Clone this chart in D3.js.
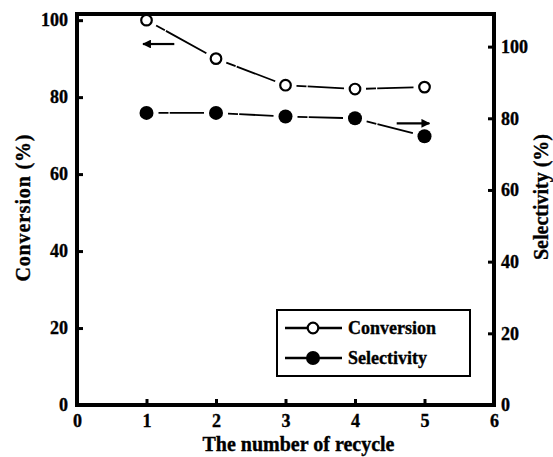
<!DOCTYPE html>
<html>
<head>
<meta charset="utf-8">
<script src="https://cdn.jsdelivr.net/npm/d3@7"></script>
<style>
  body { margin: 0; background: #fff; }
  svg { display: block; font-family: "Liberation Serif", "Times New Roman", serif; font-weight: bold; }
  svg text { stroke: #000; stroke-width: 0.35px; }
</style>
</head>
<body>
<div class="chart"></div>
<script>
// Data
var recycles = [1, 2, 3, 4, 5];
var conversion = [100, 90, 83.1, 82.1, 82.6];
var selectivity = [81.5, 81.5, 80.5, 80.0, 75.0];
var xTicks = [0, 1, 2, 3, 4, 5, 6];
var leftTicks = [0, 20, 40, 60, 80, 100];
var rightTicks = [0, 20, 40, 60, 80, 100];

// Set up chart
var svgWidth = 553;
var svgHeight = 457;

var margin = { top: 14, right: 59, bottom: 52, left: 77 };

var width = svgWidth - margin.left - margin.right;
var height = svgHeight - margin.top - margin.bottom;

var svg = d3.select(".chart")
  .append("svg")
  .attr("width", svgWidth)
  .attr("height", svgHeight);

var chartGroup = svg.append("g")
  .attr("transform", `translate(${margin.left}, ${margin.top})`);

// Scales
var xScale = d3.scaleLinear().domain([0, 6]).range([0, width]);
var yLeft = d3.scaleLinear().domain([0, 101.6]).range([height, 0]);
var yRight = d3.scaleLinear().domain([0, 109.1]).range([height, 0]);

// Axes (ticks point inward)
var bottomAxis = d3.axisBottom(xScale).tickValues(xTicks).tickSize(-6).tickPadding(9).tickFormat(d3.format("d"));
var leftAxis = d3.axisLeft(yLeft).tickValues(leftTicks).tickSize(-6).tickPadding(9);
var rightAxis = d3.axisRight(yRight).tickValues(rightTicks).tickSize(-6).tickPadding(7);

function styleAxis(g) {
  g.select(".domain").remove();
  g.selectAll(".tick line").attr("stroke", "#000").attr("stroke-width", 3);
  g.selectAll(".tick text")
    .attr("fill", "#000")
    .style("font-size", "18px")
    .style("font-family", "'Liberation Serif', 'Times New Roman', serif")
    .style("font-weight", "bold");
}

chartGroup.append("g")
  .attr("transform", `translate(0, ${height})`)
  .call(bottomAxis)
  .call(styleAxis);

chartGroup.append("g")
  .call(leftAxis)
  .call(styleAxis);

chartGroup.append("g")
  .attr("transform", `translate(${width}, 0)`)
  .call(rightAxis)
  .call(styleAxis);

// Frame
chartGroup.append("rect")
  .attr("x", 0)
  .attr("y", 0)
  .attr("width", width)
  .attr("height", height)
  .attr("fill", "none")
  .attr("stroke", "#000")
  .attr("stroke-width", 4);

// Connecting segments with gaps near the markers
function drawSegments(values, yScale, gap) {
  var pts = recycles.map((r, i) => [xScale(r), yScale(values[i])]);
  for (var i = 0; i < pts.length - 1; i++) {
    var a = pts[i], b = pts[i + 1];
    var dx = b[0] - a[0], dy = b[1] - a[1];
    var len = Math.sqrt(dx * dx + dy * dy);
    var ux = dx / len, uy = dy / len;
    chartGroup.append("line")
      .attr("x1", a[0] + ux * gap)
      .attr("y1", a[1] + uy * gap)
      .attr("x2", b[0] - ux * gap)
      .attr("y2", b[1] - uy * gap)
      .attr("stroke", "#000")
      .attr("stroke-width", 1.8)
      .attr("stroke-dasharray", "10,1.2,60");
  }
}

drawSegments(conversion, yLeft, 11);
drawSegments(selectivity, yRight, 12);

// Markers
chartGroup.selectAll(".conv")
  .data(recycles)
  .enter()
  .append("circle")
  .attr("cx", d => xScale(d))
  .attr("cy", (d, i) => yLeft(conversion[i]))
  .attr("r", 5.3)
  .attr("fill", "#fff")
  .attr("stroke", "#000")
  .attr("stroke-width", 2.2);

chartGroup.selectAll(".sel")
  .data(recycles)
  .enter()
  .append("circle")
  .attr("cx", d => xScale(d))
  .attr("cy", (d, i) => yRight(selectivity[i]))
  .attr("r", 7)
  .attr("fill", "#000");

// Arrows pointing to each axis
svg.append("defs").append("marker")
  .attr("id", "head")
  .attr("viewBox", "0 0 10 10")
  .attr("refX", 9)
  .attr("refY", 5)
  .attr("markerWidth", 4)
  .attr("markerHeight", 4)
  .attr("orient", "auto")
  .append("path")
  .attr("d", "M0,0 L10,5 L0,10 Z")
  .attr("fill", "#000");

chartGroup.append("line")
  .attr("x1", xScale(1.4)).attr("y1", yLeft(93.8))
  .attr("x2", xScale(0.95)).attr("y2", yLeft(93.8))
  .attr("stroke", "#000").attr("stroke-width", 2.2)
  .attr("marker-end", "url(#head)");

chartGroup.append("line")
  .attr("x1", xScale(4.6)).attr("y1", yRight(78.6))
  .attr("x2", xScale(5.07)).attr("y2", yRight(78.6))
  .attr("stroke", "#000").attr("stroke-width", 2.2)
  .attr("marker-end", "url(#head)");

// Axis titles
svg.append("text")
  .attr("x", margin.left + width / 2 + 13)
  .attr("y", 451)
  .attr("text-anchor", "middle")
  .style("font-size", "20px")
  .text("The number of recycle");

svg.append("text")
  .attr("transform", "translate(30, 208) rotate(-90)")
  .attr("text-anchor", "middle")
  .style("font-size", "20px")
  .attr("textLength", 147)
  .text("Conversion (%)");

svg.append("text")
  .attr("transform", "translate(548, 197) rotate(-90)")
  .attr("text-anchor", "middle")
  .style("font-size", "20px")
  .text("Selectivity (%)");

// Legend
var legend = svg.append("g");

legend.append("rect")
  .attr("x", 277)
  .attr("y", 310)
  .attr("width", 193)
  .attr("height", 66)
  .attr("fill", "#fff")
  .attr("stroke", "#000")
  .attr("stroke-width", 2);

var legendItems = [
  { label: "Conversion", y: 328, fill: "#fff", r: 5.3 },
  { label: "Selectivity", y: 358, fill: "#000", r: 7 }
];

legendItems.forEach(item => {
  legend.append("line")
    .attr("x1", 285).attr("x2", 342)
    .attr("y1", item.y).attr("y2", item.y)
    .attr("stroke", "#000").attr("stroke-width", 2.4);
  legend.append("circle")
    .attr("cx", 313)
    .attr("cy", item.y)
    .attr("r", item.r)
    .attr("fill", item.fill)
    .attr("stroke", "#000")
    .attr("stroke-width", item.fill === "#fff" ? 2.2 : 0);
  legend.append("text")
    .attr("x", 348)
    .attr("y", item.y + 6)
    .style("font-size", "18px")
    .text(item.label);
});
</script>
</body>
</html>
